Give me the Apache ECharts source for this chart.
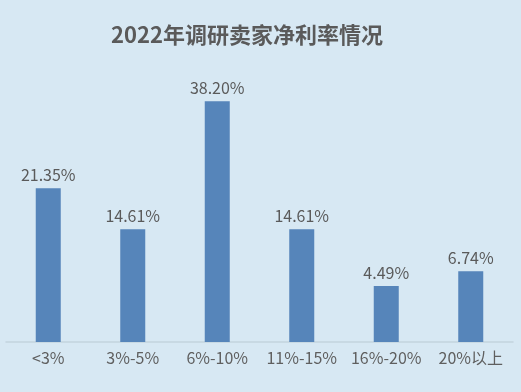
<!DOCTYPE html>
<html><head><meta charset="utf-8">
<script src="https://cdn.jsdelivr.net/npm/echarts@6/dist/echarts.min.js"></script>
<style>html,body{margin:0;padding:0;background:#d7e8f3;}#c{width:521px;height:392px;}</style>
</head><body><div id="c"></div>
<script>
const titleText = '2022年调研卖家净利率情况';
const categories = ['<3%', '3%-5%', '6%-10%', '11%-15%', '16%-20%', '20%以上'];
// displayed shares (labels)
const shareLabels = [21.35, 14.61, 38.20, 14.61, 4.49, 6.74];
// bar lengths as drawn in the reference (not proportional to labels), on the same scale as 38.20
const barLengths = [24.4, 17.9, 38.2, 17.9, 8.9, 11.25];

const chart = echarts.init(document.getElementById('c'));
chart.setOption({
  backgroundColor: '#d7e8f3',
  title: {
    text: titleText, left: 106, top: 19,
    textStyle: {fontSize: 22, fontWeight: 600, color: '#5a5a5a', fontFamily: 'Noto Sans CJK SC'}
  },
  grid: {left: 6, right: 8, top: 90, bottom: 50, containLabel: false},
  xAxis: {
    type: 'category', data: categories,
    axisLine: {lineStyle: {color: '#c3d3de', width: 1.5}},
    axisTick: {show: false},
    axisLabel: {color: '#5f5f5f', fontSize: 16, margin: 8, fontFamily: 'Noto Sans CJK SC', interval: 0}
  },
  yAxis: {type: 'value', min: 0, max: 40, show: false, splitLine: {show: false}},
  series: [{
    type: 'bar', barWidth: 25,
    data: barLengths,
    itemStyle: {color: '#5685ba'},
    label: {
      show: true, position: 'top', distance: 5,
      color: '#5a5a5a', fontSize: 16, fontFamily: 'Noto Sans CJK SC',
      formatter: p => shareLabels[p.dataIndex].toFixed(2) + '%'
    }
  }]
});
</script></body></html>
